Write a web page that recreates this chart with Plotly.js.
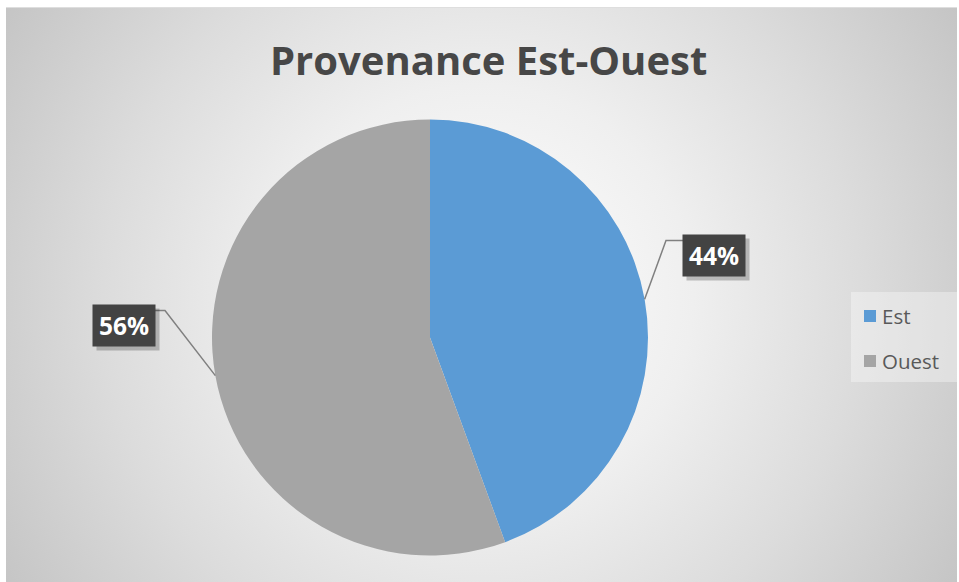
<!DOCTYPE html>
<html>
<head>
<meta charset="utf-8">
<script src="https://cdn.plot.ly/plotly-3.0.1.min.js"></script>
<style>
  html, body { margin: 0; padding: 0; background: #ffffff; }
  #wrap { position: relative; width: 959px; height: 582px; overflow: hidden; }
  #bg {
    position: absolute; left: 6px; top: 7px; width: 951px; height: 577px;
    background: radial-gradient(circle farthest-corner at 50% 50%, #ffffff 0%, #efefef 38%, #dcdcdc 68%, #c5c5c5 100%);
    border-top: 1px solid #dedede;
  }
  #chart { position: absolute; left: 0; top: 0; width: 959px; height: 582px; }
</style>
</head>
<body>
<div id="wrap">
  <div id="bg"></div>
  <div id="chart"></div>
</div>
<script>
// ---- data ----
const labels = ["Est", "Ouest"];
const values = [44.4, 55.6];
const colors = ["#5B9BD5", "#A5A5A5"];
const chartTitle = "Provenance Est-Ouest";

// ---- layout helpers (pixel -> paper) ----
const W = 959, H = 582;
const px = x => x / W;
const py = y => 1 - y / H;

// pie geometry
const cx = 430, cy = 337.5, R = 218;

// label box placement (layout) and elbow points
const labelBox = [
  {x: 714, y: 255, elbowX: 666, side: "left"},
  {x: 124, y: 325, elbowX: 165, side: "right"}
];
const boxW = 62, boxH = 41;

const total = values.reduce((a, b) => a + b, 0);
const shapes = [];
const annotations = [];

// leader lines computed from data slice mid-angles
let cum = 0;
values.forEach((v, i) => {
  const mid = (cum + v / 2) / total;   // fraction clockwise from top
  cum += v;
  const ang = mid * 2 * Math.PI;
  const ex = cx + R * Math.sin(ang);
  const ey = cy - R * Math.cos(ang);
  const lb = labelBox[i];
  const boxEdge = lb.side === "left" ? lb.x - boxW / 2 : lb.x + boxW / 2;
  const ly = lb.y - boxH / 2 + 6;
  shapes.push({
    type: "path", xref: "paper", yref: "paper",
    path: `M ${px(ex)} ${py(ey)} L ${px(lb.elbowX)} ${py(ly)} L ${px(boxEdge)} ${py(ly)}`,
    line: {color: "#808080", width: 1.5}
  });
  const pct = Math.round(v / total * 100) + "%";
  // shadow
  annotations.push({
    xref: "paper", yref: "paper", x: px(lb.x + 4), y: py(lb.y + 4),
    xanchor: "center", yanchor: "middle", showarrow: false,
    text: " ", width: boxW, height: boxH, borderpad: 0,
    bgcolor: "rgba(0,0,0,0.22)"
  });
  annotations.push({
    xref: "paper", yref: "paper", x: px(lb.x), y: py(lb.y),
    xanchor: "center", yanchor: "middle", showarrow: false,
    text: "<b>" + pct + "</b>", width: boxW, height: boxH, borderpad: 0,
    bgcolor: "#434343",
    font: {family: "Open Sans, sans-serif", size: 24.5, color: "#ffffff"}
  });
});

// custom legend
const legX0 = 851, legY0 = 292, legX1 = 957, legY1 = 382;
shapes.push({
  type: "rect", xref: "paper", yref: "paper", layer: "below",
  x0: px(legX0), x1: px(legX1), y0: py(legY1), y1: py(legY0),
  fillcolor: "rgba(255,255,255,0.35)", line: {width: 0}
});
labels.forEach((lab, i) => {
  const yc = 316 + i * 45;
  shapes.push({
    type: "rect", xref: "paper", yref: "paper",
    x0: px(864), x1: px(876), y0: py(yc + 6), y1: py(yc - 6),
    fillcolor: colors[i], line: {width: 0}
  });
  annotations.push({
    xref: "paper", yref: "paper", x: px(880), y: py(yc),
    xanchor: "left", yanchor: "middle", showarrow: false,
    text: lab,
    font: {family: "Open Sans, sans-serif", size: 20.5, color: "#595959"}
  });
});

// title
annotations.push({
  xref: "paper", yref: "paper", x: px(488), y: py(60),
  xanchor: "center", yanchor: "middle", showarrow: false,
  text: "<b>" + chartTitle + "</b>",
  font: {family: "Open Sans, sans-serif", size: 40, color: "#474747"}
});

const trace = {
  type: "pie",
  labels: labels,
  values: values,
  marker: {colors: colors, line: {width: 0}},
  sort: false,
  direction: "clockwise",
  rotation: 0,
  textinfo: "none",
  hoverinfo: "label+percent",
  showlegend: false,
  domain: {x: [px(cx - R), px(cx + R)], y: [py(cy + R), py(cy - R)]}
};

const layout = {
  width: W, height: H,
  margin: {l: 0, r: 0, t: 0, b: 0},
  paper_bgcolor: "rgba(0,0,0,0)",
  plot_bgcolor: "rgba(0,0,0,0)",
  showlegend: false,
  shapes: shapes,
  annotations: annotations
};

Plotly.newPlot("chart", [trace], layout, {displayModeBar: false, staticPlot: true});
</script>
</body>
</html>
